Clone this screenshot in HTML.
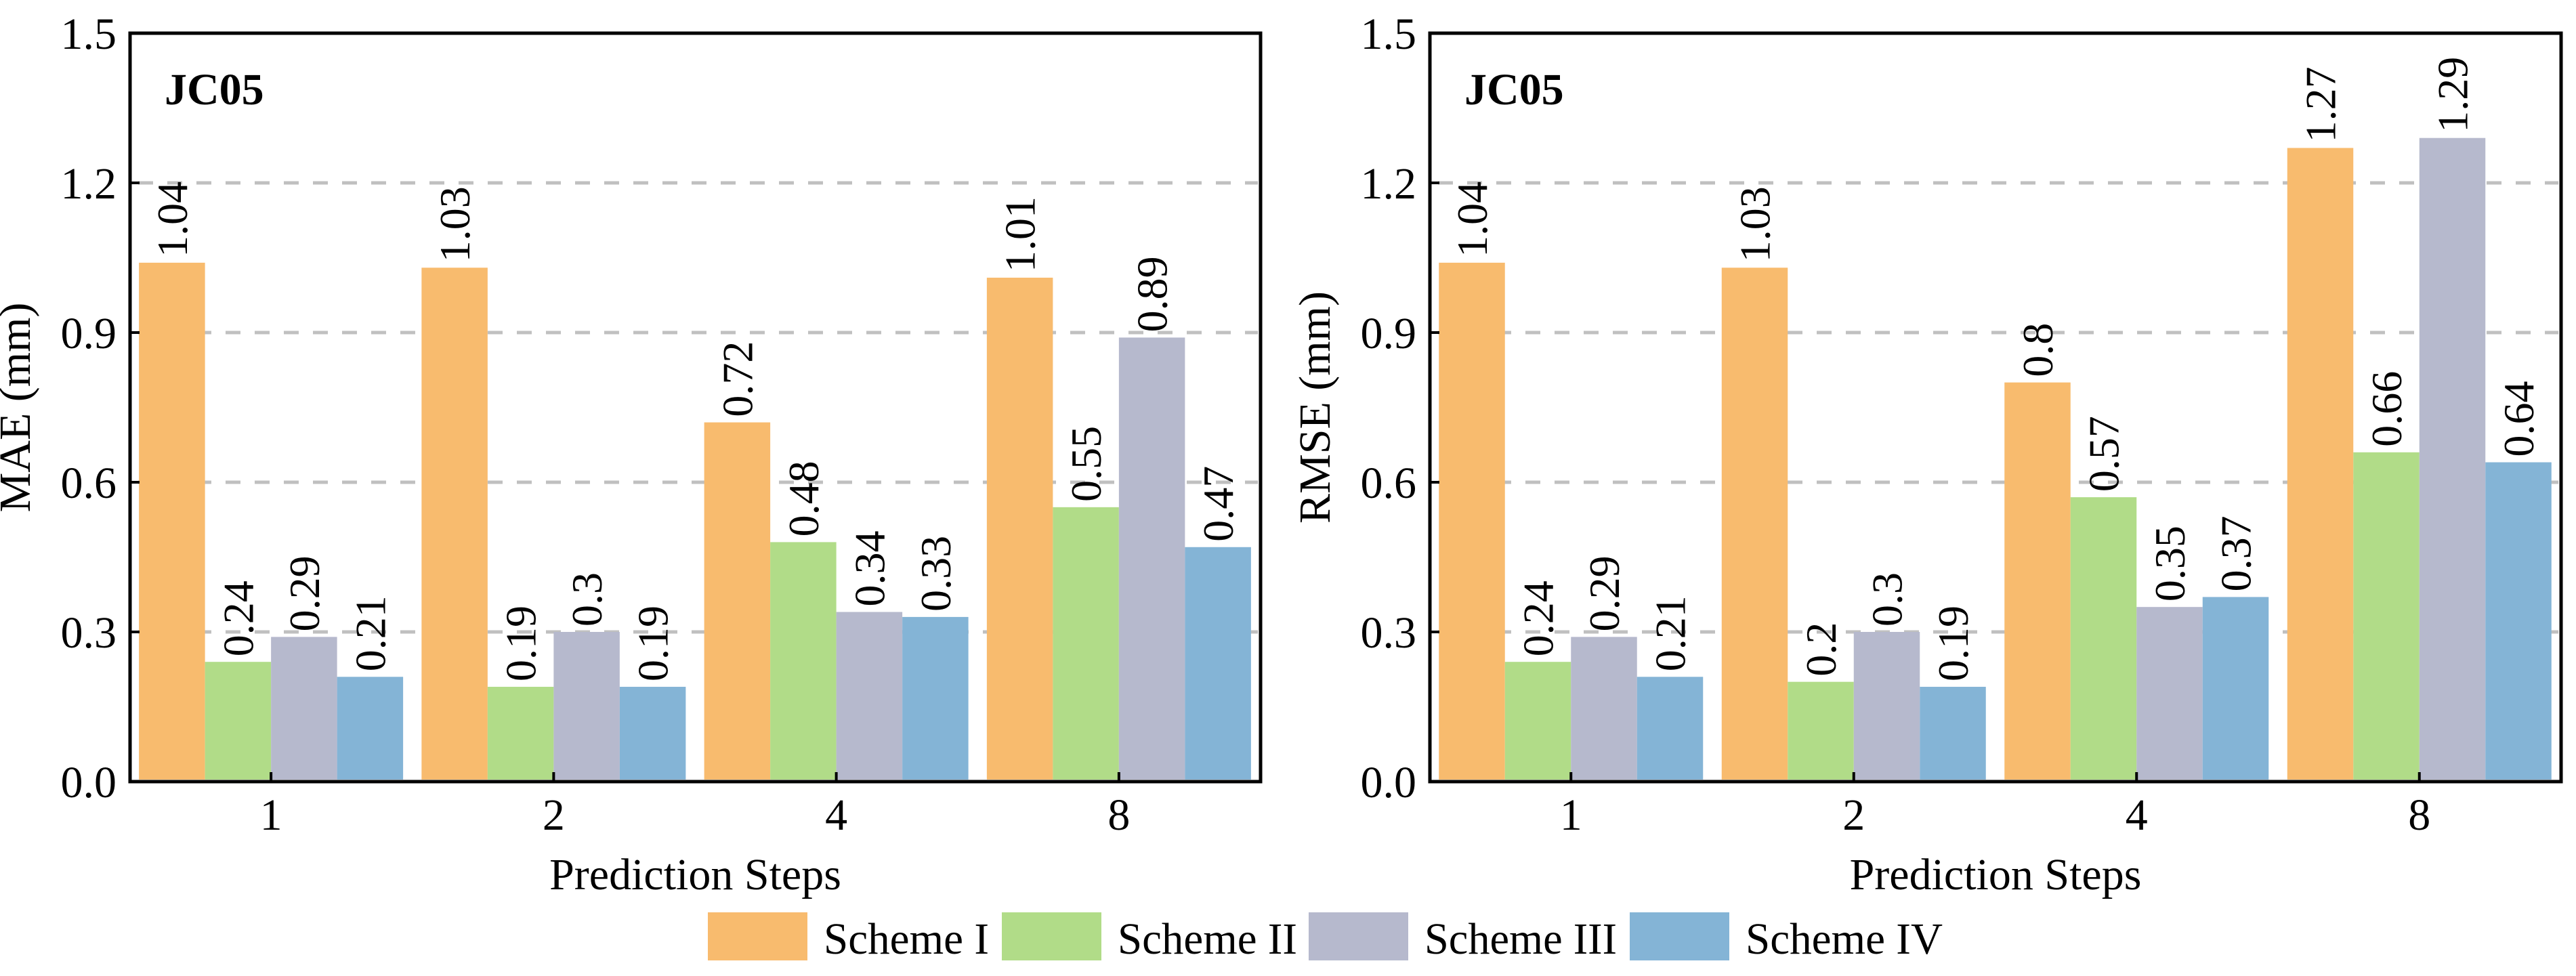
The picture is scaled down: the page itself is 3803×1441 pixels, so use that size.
<!DOCTYPE html>
<html><head><meta charset="utf-8"><style>
html,body{margin:0;padding:0;background:#fff;}
svg{display:block;font-family:"Liberation Serif",serif;}
text{font-family:"Liberation Serif",serif;}
</style></head><body>
<svg id="chart" width="3803" height="1441" viewBox="0 0 3803 1441" xmlns="http://www.w3.org/2000/svg"></svg>
<script>
const categories = ["1","2","4","8"];
const seriesNames = ["Scheme I","Scheme II","Scheme III","Scheme IV"];
const maeI = [1.04,1.03,0.72,1.01];
const maeII = [0.24,0.19,0.48,0.55];
const maeIII = [0.29,0.3,0.34,0.89];
const maeIV = [0.21,0.19,0.33,0.47];
const maeLabels = [["1.04","1.03","0.72","1.01"],["0.24","0.19","0.48","0.55"],["0.29","0.3","0.34","0.89"],["0.21","0.19","0.33","0.47"]];
const rmseI = [1.04,1.03,0.8,1.27];
const rmseII = [0.24,0.2,0.57,0.66];
const rmseIII = [0.29,0.3,0.35,1.29];
const rmseIV = [0.21,0.19,0.37,0.64];
const rmseLabels = [["1.04","1.03","0.8","1.27"],["0.24","0.2","0.57","0.66"],["0.29","0.3","0.35","1.29"],["0.21","0.19","0.37","0.64"]];
const yTicks = [0,0.3,0.6,0.9,1.2,1.5];
const yTickLabels = ["0.0","0.3","0.6","0.9","1.2","1.5"];
const colors = ["#f8bb6e","#b1dc88","#b6b9cd","#84b4d6"];

const NS="http://www.w3.org/2000/svg";
const svg=document.getElementById('chart');
function mk(tag,attrs,parent){const e=document.createElementNS(NS,tag);for(const k in attrs)e.setAttribute(k,attrs[k]);(parent||svg).appendChild(e);return e;}

const plotTop=49,plotBottom=1154,yMax=1.5;
function yScale(v){return plotBottom-(v/yMax)*(plotBottom-plotTop);}

function panel(left,right,series,labels,title,prefix){
  const g=mk('g',{});
  
  
  const n=categories.length;
  const step=(right-left)/n;
  const tickX=i=>left+step*(i+0.5)-0.5;
  const bw=97.5;
  yTicks.forEach((t,i)=>{
    if(t>0&&t<yMax){
      const l=mk('line',{x1:left+12,x2:right-4,y1:yScale(t),y2:yScale(t),stroke:'#c0c0c0','stroke-width':5,'stroke-dasharray':'22,21'},g);
      
      
    }
  });
  series.forEach((vals,s)=>{
    vals.forEach((v,i)=>{
      const x=tickX(i)+(s-2)*bw;
      const r=mk('rect',{x:x,y:yScale(v),width:bw,height:Math.max(0,plotBottom-yScale(v)-3),fill:colors[s]},g);
      
      
      const cx=x+bw/2+22, cy=yScale(v)-8;
      const t=mk('text',{x:cx,y:cy,'font-size':64,'font-family':'Liberation Serif, serif',transform:'rotate(-90 '+cx+' '+cy+')'},g);
      t.textContent=labels[s][i];
      
      
    });
  });
  const fr=mk('rect',{x:left,y:plotTop,width:right-left,height:plotBottom-plotTop,fill:'none',stroke:'#000','stroke-width':5},g);
  
  
  yTicks.forEach((t,i)=>{
    mk('line',{x1:left,x2:left+14,y1:yScale(t),y2:yScale(t),stroke:'#000','stroke-width':4},g);
    const tl=mk('text',{x:left-20,y:yScale(t)+23,'font-size':66,'text-anchor':'end'},g);
    tl.textContent=yTickLabels[i];
    
    
  });
  categories.forEach((c,i)=>{
    mk('line',{x1:tickX(i),x2:tickX(i),y1:plotBottom,y2:plotBottom-14,stroke:'#000','stroke-width':4},g);
    const tl=mk('text',{x:tickX(i),y:1225,'font-size':66,'text-anchor':'middle'},g);
    tl.textContent=c;
    
    
  });
  const xt=mk('text',{x:(left+right)/2,y:1313,'font-size':66,'text-anchor':'middle'},g);
  xt.textContent='Prediction Steps';
  
  
  const yx=left-148, yy=(plotTop+plotBottom)/2;
  const yt=mk('text',{x:yx,y:yy,'font-size':66,'text-anchor':'middle',transform:'rotate(-90 '+yx+' '+yy+')'},g);
  yt.textContent=title;
  
  
  const jc=mk('text',{x:left+51,y:154,'font-size':66,'font-weight':'bold'},g);
  jc.textContent='JC05';
  
  
}
panel(192,1861,[maeI,maeII,maeIII,maeIV],maeLabels,'MAE (mm)','mae');
panel(2111,3781,[rmseI,rmseII,rmseIII,rmseIV],rmseLabels,'RMSE (mm)','rmse');

const lg=mk('g',{});


const legX=[1045,1479,1932,2406];
const legW=[244,265,284,291];
seriesNames.forEach((nm,i)=>{
  const e=mk('g',{},lg);
  
  
  mk('rect',{x:legX[i],y:1347,width:147,height:71,fill:colors[i]},e);
  const t=mk('text',{x:legX[i]+171,y:1408,'font-size':66,textLength:legW[i],lengthAdjust:'spacingAndGlyphs'},e);
  t.textContent=nm;
});
</script>
</body></html>
